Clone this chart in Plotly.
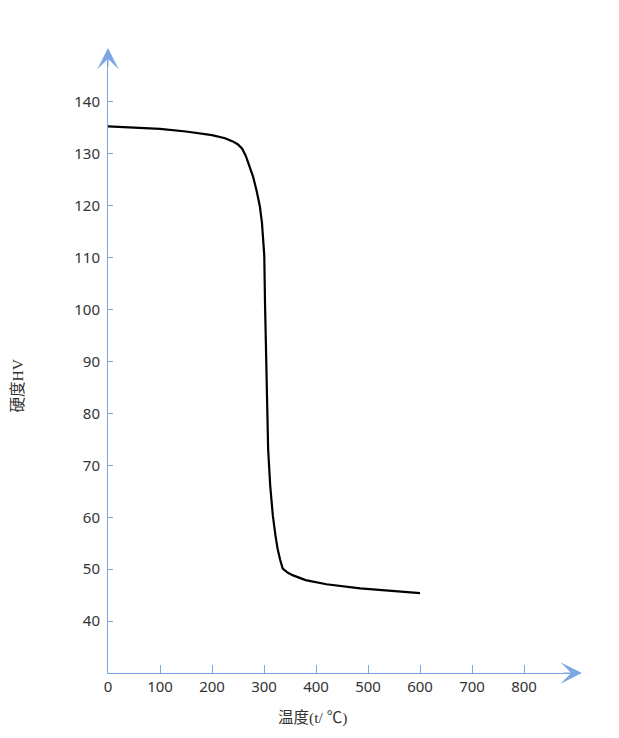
import plotly.graph_objects as go

# Data
temperature = [0, 50, 100, 150, 200, 225, 240, 250, 258, 265, 272, 279, 286, 292, 296, 299, 300.5,
               302, 304, 306, 308, 312, 317, 322, 326, 331, 336, 346, 356, 380, 420, 485, 549, 600]
hardness = [135.3, 135.0, 134.8, 134.3, 133.6, 133.0, 132.4, 131.8, 131.0, 129.6, 127.6, 125.6, 122.8, 119.9, 116.8, 113.5, 110.5,
            101.0, 92.3, 82.0, 73.0, 66.0, 60.3, 56.5, 54.0, 51.8, 50.1, 49.3, 48.8, 47.9, 47.1, 46.3, 45.8, 45.4]

x_ticks = [0, 100, 200, 300, 400, 500, 600, 700, 800]
y_ticks = [40, 50, 60, 70, 80, 90, 100, 110, 120, 130, 140]
x_title = "温度(t/ ℃)"
y_title = "硬度HV"

AXIS_COLOR = "#7DA7E0"
TICK_FONT = dict(family="Noto Sans, Open Sans, sans-serif", size=15, color="#333333")
TITLE_FONT = dict(family="Liberation Serif, Noto Sans CJK SC, serif", size=15.5, color="#333333")

fig = go.Figure()
fig.add_trace(go.Scatter(
    x=temperature, y=hardness, mode="lines",
    line=dict(color="#000000", width=2.2, shape="linear"),
    hoverinfo="x+y", showlegend=False,
))

fig.update_xaxes(
    range=[0, 900], tickvals=x_ticks, ticktext=[str(v) for v in x_ticks],
    showgrid=False, zeroline=False, showline=True, linecolor=AXIS_COLOR, linewidth=1,
    ticks="inside", ticklen=8, tickcolor=AXIS_COLOR, tickwidth=1,
    tickfont=TICK_FONT,
)
fig.update_yaxes(
    range=[30, 150], tickvals=y_ticks, ticktext=[str(v) for v in y_ticks],
    showgrid=False, zeroline=False, showline=True, linecolor=AXIS_COLOR, linewidth=1,
    ticks="inside", ticklen=5, tickcolor=AXIS_COLOR, tickwidth=1,
    tickfont=TICK_FONT, ticklabelstandoff=4,
)

# axis arrows
fig.add_annotation(x=1 + 6 / 468, y=0, xref="paper", yref="paper", text="",
                   showarrow=True, ax=-20, ay=0, arrowhead=3, arrowsize=3.6,
                   arrowwidth=1, arrowcolor=AXIS_COLOR, standoff=0)
fig.add_annotation(x=0, y=1 + 2 / 623, xref="paper", yref="paper", text="",
                   showarrow=True, ax=0, ay=20, arrowhead=3, arrowsize=3.6,
                   arrowwidth=1, arrowcolor=AXIS_COLOR, standoff=0)

# axis titles
fig.add_annotation(x=0.438, y=-0.0722, xref="paper", yref="paper", text=x_title,
                   showarrow=False, font=TITLE_FONT, xanchor="center", yanchor="middle")
fig.add_annotation(x=-0.194, y=0.462, xref="paper", yref="paper", text=y_title,
                   showarrow=False, font=TITLE_FONT, textangle=-90,
                   xanchor="center", yanchor="middle")

# page body has an 8px default margin, so the figure is offset by 8px
fig.update_layout(
    width=603, height=722,
    margin=dict(l=100, r=35, t=42, b=57),
    paper_bgcolor="white", plot_bgcolor="white",
    showlegend=False,
)

fig.write_html("out.html")
